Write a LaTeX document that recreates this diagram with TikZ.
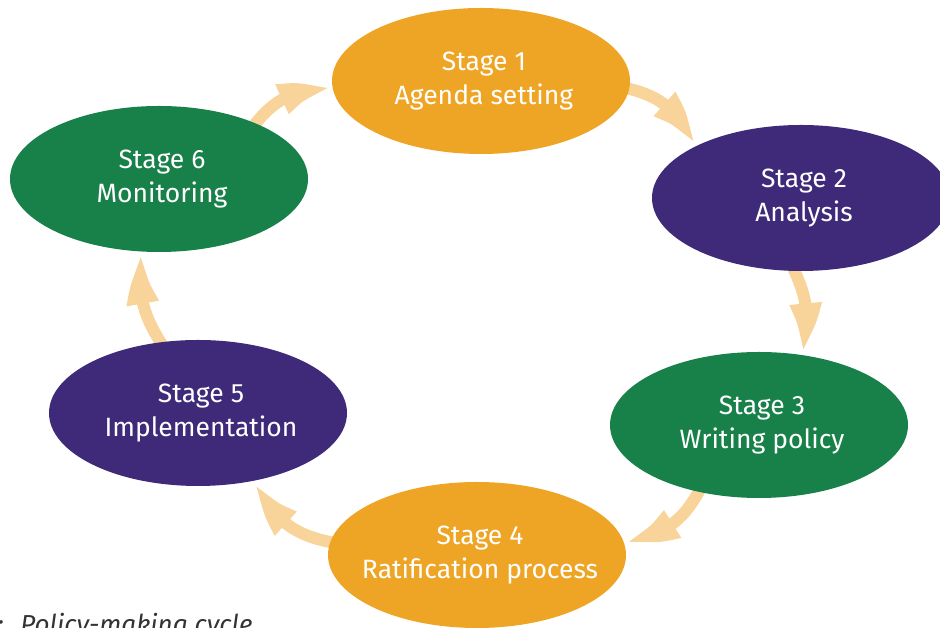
\documentclass[tikz,border=0pt]{standalone}
\usepackage{fontspec}
\setmainfont{Fira Sans}
\usetikzlibrary{arrows.meta,bending,backgrounds,shapes.geometric}

\definecolor{stageorange}{RGB}{238,165,38}
\definecolor{stagepurple}{RGB}{62,42,120}
\definecolor{stagegreen}{RGB}{24,128,73}
\definecolor{flowpeach}{RGB}{248,212,155}
\definecolor{captiongray}{RGB}{51,51,51}

\begin{document}
\begin{tikzpicture}[x=1pt,y=1pt,
  stage/.style={ellipse, minimum width=298pt, minimum height=146pt,
    inner sep=0pt},
  stagetext/.style={text=white, align=center, inner sep=0pt,
    font=\fontsize{26.5}{34}\selectfont},
  flow/.style={draw=flowpeach, line width=12pt, shorten <=-6pt,
    -{Triangle[bend,length=57pt,width=28pt,fill=flowpeach]}, bend left=30},
  caption/.style={font=\itshape\fontsize{26}{30}\selectfont, text=captiongray},
]
\useasboundingbox (0,0) rectangle (940,628);
\clip (0,0) rectangle (940,628);

% the six stages of the cycle
\node[stage, fill=stageorange] (s1) at (481,547) {};
\node[stage, fill=stagepurple] (s2) at (801,430) {};
\node[stage, fill=stagegreen]  (s3) at (759,203) {};
\node[stage, fill=stageorange] (s4) at (477,73)  {};
\node[stage, fill=stagepurple] (s5) at (198,215) {};
\node[stage, fill=stagegreen]  (s6) at (159,449) {};

% their labels
\node[stagetext] (t1) at ([xshift=3pt]s1.center) {Stage 1\\Agenda setting};
\node[stagetext] (t2) at ([xshift=3pt]s2.center) {Stage 2\\Analysis};
\node[stagetext] (t3) at ([xshift=3pt]s3.center) {Stage 3\\Writing policy};
\node[stagetext] (t4) at ([xshift=3pt]s4.center) {Stage 4\\Ratification process};
\node[stagetext] (t5) at ([xshift=3pt]s5.center) {Stage 5\\Implementation};
\node[stagetext] (t6) at ([xshift=3pt]s6.center) {Stage 6\\Monitoring};

% curved arrows running clockwise, tucked behind the ellipses
\begin{pgfonlayer}{background}
\draw[flow] (s1.-3)  to (s2.155);
\draw[flow, bend left=22] (s2.265) to (s3.60);
\draw[flow] (s3.-132) to (s4.6);
\draw[flow] (s4.175) to (s5.-49);
\draw[flow, bend left=22] (s5.118) to (s6.-102);
\draw[flow] (s6.30)  to (s1.184);
\end{pgfonlayer}

\node[caption, anchor=base east] (cap) at (256,-6) {:\hspace{17pt}Policy-making cycle};
\end{tikzpicture}
\end{document}
